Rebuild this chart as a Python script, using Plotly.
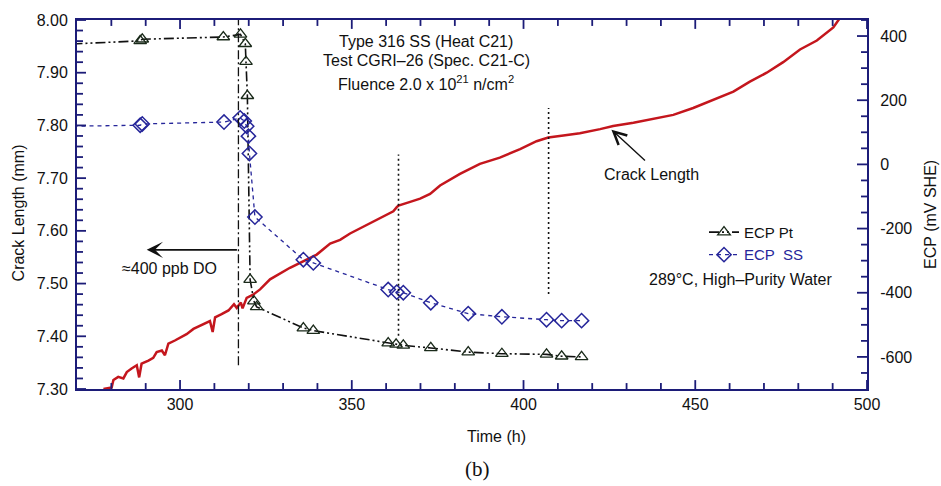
import plotly.graph_objects as go

# ---------------- data ----------------
crack_time = [277.7, 280.1, 280.6, 282.0, 283.5, 284.5, 285.9, 287.4, 288.1, 288.8, 290.8,
              292.2, 293.2, 294.7, 295.6, 296.6, 298.5, 300.0, 301.9, 303.9, 305.8, 307.3, 308.7,
              309.5, 310.2, 312.1, 314.1, 315.7, 316.5, 317.7, 318.2, 319.4, 321.3, 323.3, 326.2,
              332.0, 335.9, 339.8, 343.7, 346.6, 349.5, 353.4, 357.3, 361.2, 362.1, 363.1, 363.6,
              367.0, 369.9, 372.8, 375.7, 381.5, 387.3, 393.1, 399.0, 403.8, 407.2, 411.6, 416.4,
              422.3, 426.1, 432.0, 437.8, 443.6, 449.4, 455.2, 461.1, 465.9, 470.8, 475.6, 480.5,
              485.4, 488.3, 490.2, 491.6, 494.0]
crack_mm = [7.300, 7.303, 7.317, 7.323, 7.320, 7.332, 7.339, 7.345, 7.322, 7.348, 7.354,
            7.359, 7.370, 7.373, 7.364, 7.386, 7.392, 7.398, 7.404, 7.414, 7.420, 7.426, 7.429,
            7.408, 7.436, 7.442, 7.449, 7.461, 7.454, 7.464, 7.453, 7.473, 7.479, 7.489, 7.508,
            7.530, 7.542, 7.555, 7.576, 7.583, 7.595, 7.608, 7.620, 7.633, 7.637, 7.645, 7.648,
            7.655, 7.661, 7.670, 7.686, 7.708, 7.727, 7.739, 7.755, 7.770, 7.777, 7.781, 7.785,
            7.793, 7.799, 7.805, 7.812, 7.820, 7.833, 7.849, 7.864, 7.883, 7.900, 7.920, 7.944,
            7.961, 7.977, 7.986, 7.999, 8.020]

pt_time = [262.0, 288.4, 289.0, 312.6, 317.6, 319.0, 319.2, 319.6, 320.4, 321.5, 322.3, 335.9,
           338.8, 360.6, 362.9, 365.0, 373.0, 383.9, 393.7, 406.7, 411.1, 416.9]
pt_ecp = [372, 385, 390, 397, 405, 376, 320, 214, -359, -426, -444, -510,
          -518, -557, -561, -564, -572, -585, -590, -592, -598, -600]

ss_time = [262.0, 288.4, 289.0, 312.8, 317.5, 318.7, 319.4, 319.9, 320.2, 321.8, 335.9, 338.8,
           360.6, 363.1, 365.0, 373.0, 383.9, 393.7, 406.7, 411.1, 416.9]
ss_ecp = [118, 122, 126, 132, 145, 135, 119, 88, 34, -164, -297, -307,
          -390, -398, -400, -431, -465, -475, -484, -487, -487]

do_change_time = 317.0          # dash-dot event line
do_line_span = [7.345, 8.00]
event_times = [363.6, 407.3]    # dotted event lines
event_spans = [[7.401, 7.745], [7.480, 7.833]]

time_major_ticks = [300, 350, 400, 450, 500]
time_minor_ticks = [280, 290, 310, 320, 330, 340, 360, 370, 380, 390,
                    410, 420, 430, 440, 460, 470, 480, 490]
crack_major_ticks = [7.30, 7.40, 7.50, 7.60, 7.70, 7.80, 7.90, 8.00]
crack_minor_ticks = [7.32, 7.34, 7.36, 7.38, 7.42, 7.44, 7.46, 7.48, 7.52, 7.54, 7.56, 7.58,
                     7.62, 7.64, 7.66, 7.68, 7.72, 7.74, 7.76, 7.78, 7.82, 7.84, 7.86, 7.88,
                     7.92, 7.94, 7.96, 7.98]
ecp_tick_vals = [-600, -400, -200, 0, 200, 400]
ecp_tick_text = ["-600", "-400", "-200", "0", "200", "400"]
ecp_minor_ticks = [-650, -550, -500, -450, -350, -300, -250, -150, -100, -50,
                   50, 100, 150, 250, 300, 350, 450]

# ---------------- styles ----------------
AX = "#1c1c78"
FONT = "Liberation Sans, Arial, sans-serif"
RED = "#c4161d"
NAVY = "#26269a"

fig = go.Figure()
fig.add_trace(go.Scatter(x=crack_time, y=crack_mm, mode="lines",
                         line=dict(color=RED, width=2.5), showlegend=False))
fig.add_trace(go.Scatter(x=pt_time, y=pt_ecp, yaxis="y2", mode="lines+markers", name="ECP Pt",
                         line=dict(color="#111111", width=1.6, dash="10px,3px,2px,3px,2px,3px"),
                         marker=dict(symbol="triangle-up-open", size=11, color="#1a2a1a",
                                     line=dict(width=1.3))))
fig.add_trace(go.Scatter(x=ss_time, y=ss_ecp, yaxis="y2", mode="lines+markers",
                         name='<span style="color:#26269a">ECP  SS</span>',
                         line=dict(color=NAVY, width=1.3, dash="4px,4px"),
                         marker=dict(symbol="diamond-open", size=11, color=NAVY,
                                     line=dict(width=1.5))))

shapes = [dict(type="line", xref="x", yref="y", x0=do_change_time, x1=do_change_time,
               y0=do_line_span[0], y1=do_line_span[1],
               line=dict(color="#111111", width=1.3, dash="9px,3px,2px,3px"))]
for t, sp in zip(event_times, event_spans):
    shapes.append(dict(type="line", xref="x", yref="y", x0=t, x1=t, y0=sp[0], y1=sp[1],
                       line=dict(color="#111111", width=1.6, dash="2px,3px")))

# tick marks drawn as short segments anchored to the axes (inside the frame)
TL = dict(color=AX, width=1.8)
def xtick(v, length):
    # bottom and top (mirrored)
    return [dict(type="line", xref="x", yref="paper", x0=v, x1=v, y0=0, y1=length / 373, line=TL, layer="above"),
            dict(type="line", xref="x", yref="paper", x0=v, x1=v, y0=1, y1=1 - length / 373, line=TL, layer="above")]
for v in time_major_ticks:
    shapes += xtick(v, 9)
for v in time_minor_ticks:
    shapes += xtick(v, 6)
for v in crack_major_ticks:
    shapes.append(dict(type="line", xref="paper", yref="y", x0=0, x1=9 / 790, y0=v, y1=v, line=TL, layer="above"))
for v in crack_minor_ticks:
    shapes.append(dict(type="line", xref="paper", yref="y", x0=0, x1=6 / 790, y0=v, y1=v, line=TL, layer="above"))
for v in ecp_tick_vals:
    shapes.append(dict(type="line", xref="paper", yref="y2", x0=1, x1=1 - 10 / 790, y0=v, y1=v, line=TL, layer="above"))
for v in ecp_minor_ticks:
    shapes.append(dict(type="line", xref="paper", yref="y2", x0=1, x1=1 - 6 / 790, y0=v, y1=v, line=TL, layer="above"))

tfont = dict(family=FONT, size=16, color="#111111")
C = dict(xanchor="center", yanchor="middle", showarrow=False)
ann = [
    dict(xref="paper", yref="paper", x=0.4424, y=(389 - 37.5) / 373, text="Type 316 SS (Heat C21)",
         font=tfont, **C),
    dict(xref="paper", yref="paper", x=0.4424, y=(389 - 57) / 373, text="Test CGRI\u201326 (Spec. C21-C)",
         font=tfont, **C),
    dict(xref="paper", yref="paper", x=0.4424, y=(389 - 80) / 373,
         text="Fluence 2.0 x 10<sup>21</sup> n/cm<sup>2</sup>", font=tfont, **C),
    dict(xref="paper", yref="paper", x=(740 - 77) / 790, y=(389 - 278.5) / 373,
         text="289\u00b0C, High\u2013Purity Water", font=tfont, **C),
    dict(xref="x", yref="y", x=297.0, y=7.528, text="\u2248400 ppb DO", font=tfont, **C),
    dict(xref="x", yref="y", x=290.3, y=7.564, ax=do_change_time, ay=7.564, axref="x", ayref="y",
         text="", showarrow=True, arrowhead=3, arrowsize=1.7, arrowwidth=1.6, arrowcolor="#111111"),
    dict(xref="x", yref="y", x=437.3, y=7.706, text="Crack Length", font=tfont, **C),
    dict(xref="x", yref="y", x=425.6, y=7.792, ax=435.8, ay=7.731, axref="x", ayref="y",
         text="", showarrow=True, arrowhead=5, arrowsize=1.8, arrowwidth=1.4, arrowcolor="#111111"),
    dict(xref="paper", yref="paper", x=(18.5 - 77) / 790, y=(389 - 211) / 373, text="Crack Length (mm)",
         textangle=-90, font=dict(family=FONT, size=16, color="#111111"), **C),
    dict(xref="paper", yref="paper", x=(931 - 77) / 790, y=(389 - 213) / 373, text="ECP (mV SHE)",
         textangle=-90, font=dict(family=FONT, size=16, color="#111111"), **C),
    dict(xref="paper", yref="paper", x=(497 - 77) / 790, y=(389 - 437) / 373, text="Time (h)",
         font=dict(family=FONT, size=16, color="#111111"), **C),
    dict(xref="paper", yref="paper", x=(477 - 77) / 790, y=(389 - 470) / 373, text="(b)",
         font=dict(family="Liberation Serif, Times New Roman, serif", size=21, color="#111111"), **C),
]

fig.update_layout(
    width=941, height=486,
    margin=dict(l=77, r=74, t=16, b=97),
    paper_bgcolor="white", plot_bgcolor="white",
    font=dict(family=FONT, size=16, color="#111111"),
    shapes=shapes, annotations=ann,
    legend=dict(x=(704 - 77) / 790, y=(389 - 214) / 373, xanchor="left", yanchor="top",
                bgcolor="rgba(0,0,0,0)", font=dict(family=FONT, size=15, color="#111111"),
                tracegroupgap=0, itemwidth=30),
    xaxis=dict(range=[270, 500], tickmode="array", tickvals=time_major_ticks, showgrid=False,
               zeroline=False, showline=True, linecolor=AX, linewidth=2, mirror=True,
               ticks="", tickfont=dict(family=FONT, size=16, color="#111111")),
    yaxis=dict(range=[7.30, 8.00], tickmode="array", tickvals=crack_major_ticks, tickformat=".2f",
               showgrid=False, zeroline=False, showline=True, linecolor=AX, linewidth=2, mirror=False,
               ticks="", ticklabelstandoff=4,
               tickfont=dict(family=FONT, size=16, color="#111111")),
    yaxis2=dict(range=[-700, 450], overlaying="y", side="right", tickmode="array",
                tickvals=ecp_tick_vals, ticktext=ecp_tick_text, showgrid=False, zeroline=False,
                showline=True, linecolor=AX, linewidth=2, ticks="", ticklabelstandoff=8,
                tickfont=dict(family=FONT, size=16, color="#111111")),
)

fig.write_html("out.html")
